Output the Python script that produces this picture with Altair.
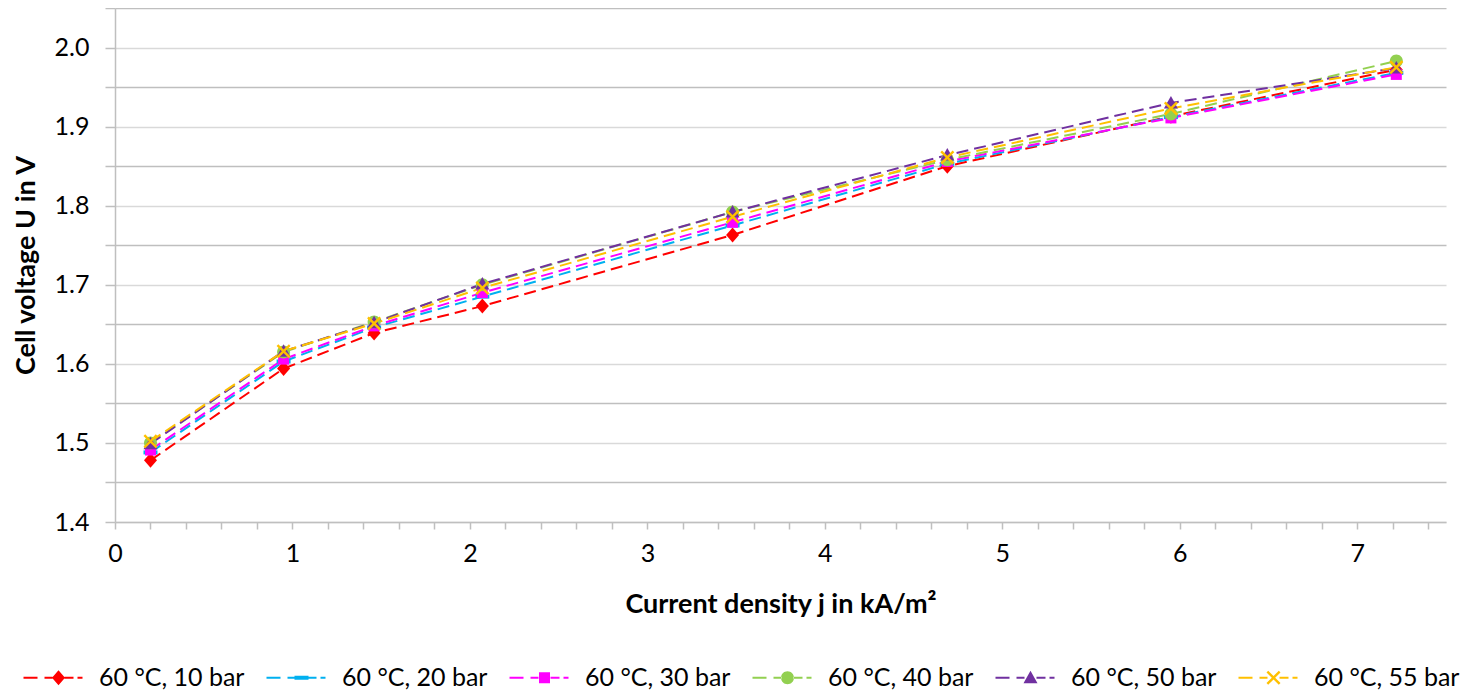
import math
import altair as alt
import pandas as pd

# ---------------- data ----------------
x_vals = [0.2, 0.95, 1.46, 2.07, 3.48, 4.69, 5.95, 7.22]
series = ["60 °C, 10 bar", "60 °C, 20 bar", "60 °C, 30 bar",
          "60 °C, 40 bar", "60 °C, 50 bar", "60 °C, 55 bar"]
u_10bar = [1.478, 1.594, 1.639, 1.673, 1.763, 1.850, 1.913, 1.972]
u_20bar = [1.488, 1.603, 1.646, 1.685, 1.775, 1.853, 1.912, 1.968]
u_30bar = [1.491, 1.606, 1.648, 1.690, 1.779, 1.856, 1.911, 1.966]
u_40bar = [1.500, 1.615, 1.653, 1.700, 1.792, 1.858, 1.916, 1.983]
u_50bar = [1.499, 1.616, 1.652, 1.701, 1.792, 1.864, 1.930, 1.974]
u_55bar = [1.502, 1.616, 1.651, 1.696, 1.786, 1.861, 1.923, 1.975]
colors = ["#FF0000", "#00B0F0", "#FF00FF", "#92D050", "#7030A0", "#FFC000"]
x_ticks = [0, 0.2, 0.4, 0.6, 0.8, 1, 1.2, 1.4, 1.6, 1.8, 2, 2.2, 2.4, 2.6, 2.8,
           3, 3.2, 3.4, 3.6, 3.8, 4, 4.2, 4.4, 4.6, 4.8, 5, 5.2, 5.4, 5.6, 5.8,
           6, 6.2, 6.4, 6.6, 6.8, 7, 7.2, 7.4]
y_ticks = [1.4, 1.45, 1.5, 1.55, 1.6, 1.65, 1.7, 1.75, 1.8, 1.85, 1.9, 1.95,
           2.0, 2.05]

all_u = [u_10bar, u_20bar, u_30bar, u_40bar, u_50bar, u_55bar]
rows = []
for s, us in zip(series, all_u):
    for xv, uv in zip(x_vals, us):
        rows.append({"series": s, "j": xv, "u": uv})
df = pd.DataFrame(rows)

# ---------------- marker shapes (px, converted to symbol units) ----------------
def fmt(v):
    return f"{v:.3f}".rstrip("0").rstrip(".")

def rect(x0, x1, y0, y1, r):
    return f"M{fmt(x0/r)},{fmt(y0/r)}H{fmt(x1/r)}V{fmt(y1/r)}H{fmt(x0/r)}Z"

def poly(pts, r):
    return "M" + "L".join(f"{fmt(px/r)},{fmt(py/r)}" for px, py in pts) + "Z"

def marker(kind, r):
    if kind == "diamond":
        return poly([(0, -7.5), (6.5, 0), (0, 7.5), (-6.5, 0)], r)
    if kind == "dash":
        return rect(-7, 7, -2, 2, r)
    if kind == "square":
        return rect(-5.5, 5.5, -5.5, 5.5, r)
    if kind == "circle":
        c = 6.5 / r
        return f"M{fmt(-c)},0A{fmt(c)},{fmt(c)},0,1,0,{fmt(c)},0A{fmt(c)},{fmt(c)},0,1,0,{fmt(-c)},0Z"
    if kind == "triangle":
        return poly([(0, -7), (7, 5.5), (-7, 5.5)], r)
    if kind == "x":
        a, d = 7.0, 1.7
        return poly([(-a, -a + d), (-a + d, -a), (0, -d), (a - d, -a), (a, -a + d), (d, 0),
                     (a, a - d), (a - d, a), (0, d), (-a + d, a), (-a, a - d), (-d, 0)], r)

kinds = ["diamond", "dash", "square", "circle", "triangle", "x"]

PLOT_SIZE = 196   # r = 7 px
LEG_SIZE = 144    # r = 6 px
r_plot = math.sqrt(PLOT_SIZE) / 2
r_leg = math.sqrt(LEG_SIZE) / 2

def legend_symbol(kind):
    t = 0.9
    dashes = [(-35, -21), (-14, -6), (6, 15), (19, 24)]
    p = "".join(rect(a, b, -t, t, r_leg) for a, b in dashes)
    return p + marker(kind, r_leg)

plot_shapes = [marker(k, r_plot) for k in kinds]
legend_shapes = [legend_symbol(k) for k in kinds]

# ---------------- chart ----------------
FONT = "Lato"
cscale = alt.Scale(domain=series, range=colors)

x_enc = alt.X(
    "j:Q",
    scale=alt.Scale(domain=[0, 7.5], nice=False, zero=False),
    axis=alt.Axis(
        values=x_ticks,
        labelExpr="abs(datum.value - round(datum.value)) < 0.001 ? format(datum.value, 'd') : ''",
        title="Current density j in kA/m²",
        grid=False, tickSize=7, tickWidth=1.5, tickColor="#bfbfbf",
        domainColor="#bfbfbf", domainWidth=1.5,
        labelFont=FONT, labelFontSize=25, labelColor="#000000", labelPadding=12,
        labelFlush=False, labelOverlap=False,
        titleFont=FONT, titleFontSize=27, titleFontWeight="bold", titleColor="#000000",
        titlePadding=25,
    ),
)
y_enc = alt.Y(
    "u:Q",
    scale=alt.Scale(domain=[1.4, 2.05], nice=False, zero=False),
    axis=alt.Axis(
        values=y_ticks,
        labelExpr="round(datum.value * 20) % 2 == 0 ? format(datum.value, '.1f') : ''",
        title="Cell voltage U in V",
        grid=True, gridWidth=1.5,
        gridColor=alt.condition("round(datum.value * 20) % 2 == 1",
                                alt.value("#bfbfbf"), alt.value("#d9d9d9")),
        tickSize=10, tickWidth=1.5, tickColor="#bfbfbf",
        domainColor="#bfbfbf", domainWidth=1.5,
        labelFont=FONT, labelFontSize=25, labelColor="#000000", labelPadding=16,
        labelFlush=False, labelOverlap=False,
        titleFont=FONT, titleFontSize=27, titleFontWeight="bold", titleColor="#000000",
        titlePadding=14,
    ),
)

base = alt.Chart(df)

leg = alt.Legend(
    title=None, orient="none", legendX=-92, legendY=657,
    direction="horizontal", columns=6,
    symbolSize=LEG_SIZE, symbolStrokeWidth=0, symbolOpacity=1,
    symbolOffset=23, labelOffset=28, columnPadding=21,
    labelFont=FONT, labelFontSize=25, labelColor="#000000", labelLimit=0,
    padding=0,
)
# invisible layer that only carries the legend (drawn first, so its legend wins)
legend_layer = base.mark_point(filled=True, opacity=0, size=LEG_SIZE).encode(
    x=x_enc, y=y_enc,
    color=alt.Color("series:N", scale=cscale, legend=leg),
    shape=alt.Shape("series:N", scale=alt.Scale(domain=series, range=legend_shapes), legend=leg),
)

lines = base.mark_line(strokeDash=[12, 6], strokeWidth=2).encode(
    x=x_enc, y=y_enc,
    color=alt.Color("series:N", scale=cscale, legend=None),
)

point_layers = []
for s, shp in zip(series, plot_shapes):
    point_layers.append(
        base.transform_filter(alt.datum.series == s)
        .mark_point(shape=shp, filled=True, size=PLOT_SIZE, opacity=1, strokeWidth=0)
        .encode(x=x_enc, y=y_enc,
                color=alt.Color("series:N", scale=cscale, legend=None))
    )

chart = alt.layer(legend_layer, lines, *point_layers).properties(
    width=1331, height=514,
    autosize=alt.AutoSizeParams(type="none"),
    padding={"left": 107, "top": 0, "right": 14, "bottom": 171},
    background="white",
).configure_view(stroke=None)

chart.save("out.html", embed_options={"renderer": "svg", "actions": False})
